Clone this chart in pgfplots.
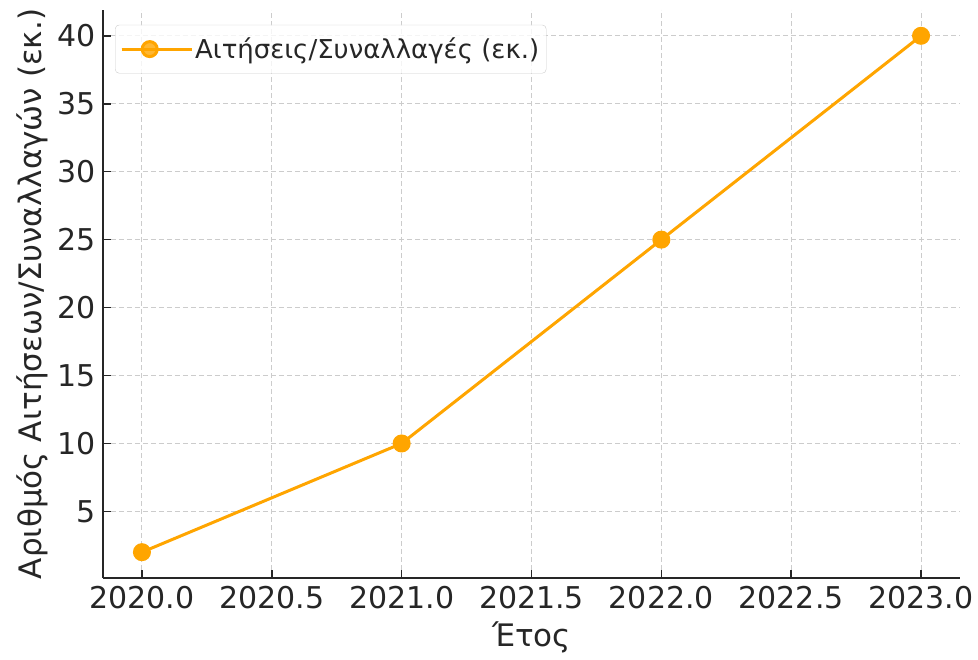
\documentclass[border=0pt]{standalone}
\usepackage{fontspec}
\setmainfont{DejaVu Sans}
\usepackage{pgfplots}
\pgfplotsset{compat=1.18}
\definecolor{lineor}{HTML}{FFA500}
\definecolor{txt}{HTML}{262626}
\begin{document}
\begin{tikzpicture}
\begin{axis}[
  scale only axis,
  width=857pt, height=568pt,
  xmin=2019.85, xmax=2023.15,
  ymin=0.1, ymax=41.9,
  axis x line*=bottom, axis y line*=left,
  axis line style={line width=1.8pt, black!85, -},
  xtick={2020,2020.5,2021,2021.5,2022,2022.5,2023},
  ytick={5,10,15,20,25,30,35,40},
  tick align=inside,
  major tick length=8pt,
  tick style={line width=1.5pt, black!85},
  grid=major,
  grid style={dashed, line width=1pt, color=black!20, dash pattern=on 5pt off 3pt},
  /pgf/number format/assume math mode=true,
  xticklabel style={/pgf/number format/.cd, fixed, fixed zerofill, precision=1, 1000 sep={}},
  yticklabel style={/pgf/number format/.cd, fixed, 1000 sep={}},
  ticklabel style={font=\fontsize{30}{36}\selectfont, text=txt},
  xlabel={Έτος},
  ylabel={Αριθμός Αιτήσεων/Συναλλαγών (εκ.)},
  label style={font=\fontsize{31}{37}\selectfont, text=txt},
  xlabel style={yshift=-6pt},
  ylabel style={yshift=2pt},
  xticklabel shift=5pt,
  yticklabel shift=4pt,
  legend style={at={(0.014,0.974)}, anchor=north west, draw=black!20, fill=white, fill opacity=0.8, text opacity=1, rounded corners=4pt, font=\fontsize{26}{31}\selectfont, text=txt, inner xsep=5pt, inner ysep=11pt},
  legend cell align=left,
  legend image code/.code={\draw[mark repeat=2,mark phase=2] plot coordinates {(0pt,0pt) (28pt,0pt) (56pt,0pt)}; \path (0pt,0pt) -- (70pt,0pt);},
]
\addplot[color=lineor, line width=3pt, mark=*, mark size=7.5pt, mark options={fill=lineor, draw=lineor}]
  coordinates {(2020,2) (2021,10) (2022,25) (2023,40)};
\addlegendentry{Αιτήσεις/Συναλλαγές (εκ.)}
\end{axis}
\pgfresetboundingbox
\path[use as bounding box] (current axis.south west) ++(-103pt,-82pt) rectangle ++(978pt,660pt);
\end{tikzpicture}
\end{document}
